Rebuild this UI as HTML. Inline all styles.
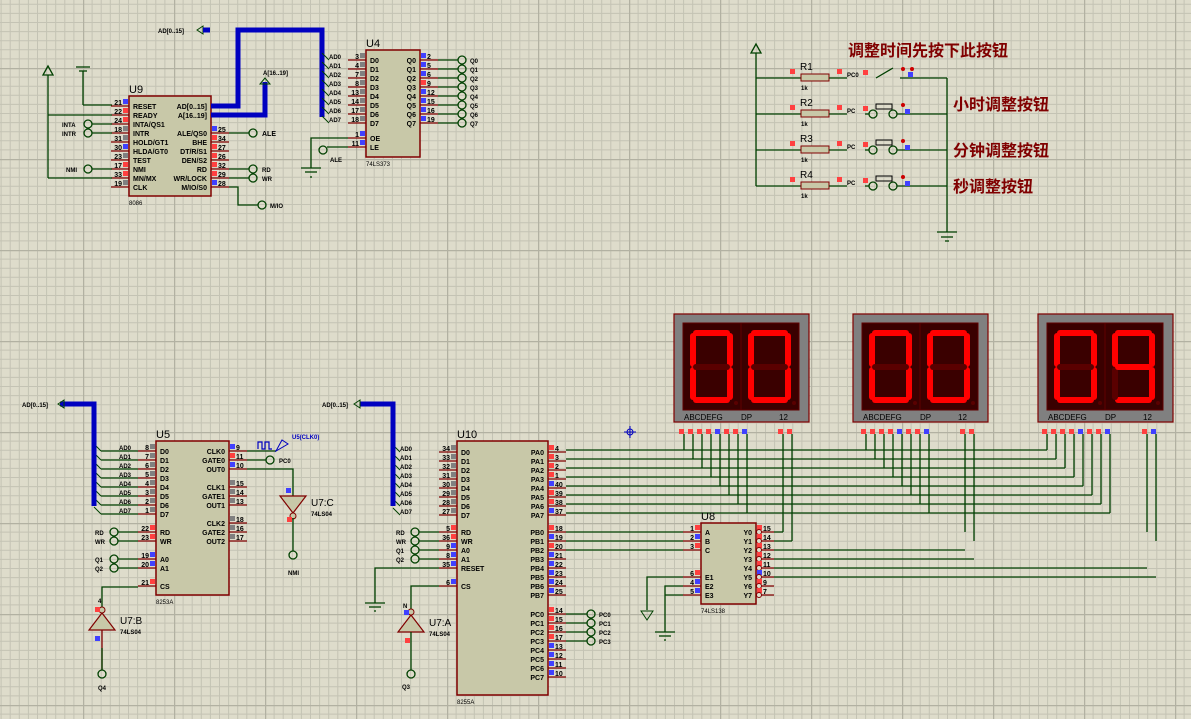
<!DOCTYPE html>
<html><head><meta charset="utf-8"><style>
html,body{margin:0;padding:0;background:#dedccb;overflow:hidden}
svg{display:block}
text{font-family:"Liberation Sans","Noto Sans CJK SC",sans-serif;}
</style></head><body>
<svg id="s" width="1191" height="719" viewBox="0 0 1191 719" xmlns="http://www.w3.org/2000/svg">
<defs>
<pattern id="g" width="91" height="91" patternUnits="userSpaceOnUse" patternTransform="translate(83,432)">
<rect width="91" height="91" fill="#dedccb"/>
<g stroke="#c4c3b4" stroke-width="1">
<path d="M9.1 0V91M18.2 0V91M27.3 0V91M36.4 0V91M45.5 0V91M54.6 0V91M63.7 0V91M72.8 0V91M81.9 0V91"/>
<path d="M0 9.1H91M0 18.2H91M0 27.3H91M0 36.4H91M0 45.5H91M0 54.6H91M0 63.7H91M0 72.8H91M0 81.9H91"/>
</g>
<path d="M0.5 0V91M0 0.5H91" stroke="#b2b1a2" stroke-width="1.5"/>
</pattern>
</defs>
<rect width="1191" height="719" fill="url(#g)"/>
<g id="c"></g>
</svg>
<script>
var o='';
var W='#004000',P='#800000',R='#ff4040',B='#4040ff',G='#808080';
function L(x1,y1,x2,y2,c,w){o+='<line x1="'+x1+'" y1="'+y1+'" x2="'+x2+'" y2="'+y2+'" stroke="'+(c||W)+'" stroke-width="'+(w||1.3)+'"/>';}
function PL(pts,c,w){o+='<polyline points="'+pts+'" fill="none" stroke="'+(c||W)+'" stroke-width="'+(w||1.3)+'"/>';}
function T(x,y,t,s,c,a,wt){o+='<text x="'+x+'" y="'+y+'" font-size="'+(s||7)+'" fill="'+(c||'#000')+'"'+(a?' text-anchor="'+a+'"':'')+(wt?' font-weight="bold"':'')+'>'+t+'</text>';}
function SQ(x,y,c){o+='<rect x="'+x+'" y="'+y+'" width="5" height="5" fill="'+c+'"/>';}
function C(x,y){o+='<circle cx="'+x+'" cy="'+y+'" r="4" fill="none" stroke="'+W+'" stroke-width="1.3"/>';}
function chip(x,y,w,h,lab,sub){o+='<rect x="'+x+'" y="'+y+'" width="'+w+'" height="'+h+'" fill="#c8c8a8" stroke="'+P+'" stroke-width="1.5"/>';T(x,y-3,lab,11,'#000');if(sub)T(x,y+h+9,sub,6,'#000');}
function pl(x,y,n,name,c){L(x-18,y,x,y,P,1.3);T(x-7,y-1,n,7,'#000','end',1);if(c)SQ(x-6,y-7,c);if(name)T(x+4,y+3,name,7,'#000',0,1);}
function pr(x,y,n,name,c){L(x,y,x+18,y,P,1.3);T(x+7,y-1,n,7,'#000',0,1);if(c)SQ(x+1,y-7,c);if(name)T(x-4,y+3,name,7,'#000','end',1);}
function bus(pts){PL(pts,'#0000c0',5);}
function gnd(x,y){L(x,y,x,y+8);L(x-10,y+8,x+10,y+8);L(x-6,y+12,x+6,y+12);L(x-2,y+16,x+2,y+16);}
function pwr(x,y){o+='<polygon points="'+x+','+y+' '+(x-5)+','+(y+9)+' '+(x+5)+','+(y+9)+'" fill="none" stroke="'+W+'" stroke-width="1.3"/>';}

// ===== U9 8086 =====
chip(129,96,82,100,'U9','8086');
var l9=[[21,'RESET',B],[22,'READY',R],[24,'INTA/QS1',R],[18,'INTR',G],[31,'HOLD/GT1',G],[30,'HLDA/GT0',B],[23,'TEST',G],[17,'NMI',R],[33,'MN/MX',R],[19,'CLK',G]];
l9.forEach(function(p,i){pl(129,106+9*i,p[0],p[1],p[2]);});
var r9=[[106,'','AD[0..15]',0],[115,'','A[16..19]',0],[133,25,'ALE/QS0',B],[142,34,'BHE',R],[151,27,'DT/R/S1',R],[160,26,'DEN/S2',R],[169,32,'RD',R],[178,29,'WR/LOCK',R],[187,28,'M/IO/S0',B]];
r9.forEach(function(p){pr(211,p[0],p[1],p[2],p[3]);});
pwr(48,66);L(48,75,48,178);L(48,178,112,178);L(48,115,112,115);
L(76,67,90,67);L(79,71,87,71);L(83,71,83,105);L(83,105,112,105);
C(88,124);L(92,124,112,124);T(62,127,'INTA',6,'#000',0,1);
C(88,133);L(92,133,112,133);T(62,136,'INTR',6,'#000',0,1);
C(88,169);L(92,169,112,169);T(66,172,'NMI',6,'#000',0,1);
C(253,133);L(229,133,249,133);T(262,136,'ALE',7,'#000',0,1);
C(253,169);L(229,169,249,169);T(262,172,'RD',6,'#000',0,1);
C(253,178);L(229,178,249,178);T(262,181,'WR',6,'#000',0,1);
PL('229,187 238,187 238,205 258,205');C(262,205);T(270,208,'M/IO',6,'#000',0,1);
bus('211,106 238,106 238,30 322,30 322,117');
o+='<polygon points="197,30 203,26 203,34" fill="none" stroke="'+W+'"/>';L(203,30,210,30,'#0000c0',5);
T(158,33,'AD[0..15]',6,'#000',0,1);
bus('211,115 265,115 265,82');o+='<polygon points="265,78 260,84 270,84" fill="none" stroke="'+W+'"/>';T(263,75,'A[16..19]',6,'#000',0,1);

// ===== U4 74LS373 =====
chip(366,50,54,107,'U4','74LS373');
var n4=[3,4,7,8,13,14,17,18],q4=[2,5,6,9,12,15,16,19];
for(var i=0;i<8;i++){var y=60+9*i;pl(366,y,n4[i],'D'+i,G);L(322,y-7,329,y,'#004000',1);T(329,y-1,'AD'+i,6,'#000',0,1);
pr(420,y,q4[i],'Q'+i,i==3?R:B);L(438,y,458,y);C(462,y);T(470,y+3,'Q'+i,6,'#000',0,1);}
pl(366,138,1,'OE',B);pl(366,147,11,'LE',B);
PL('348,138 311,138 311,168');L(301,168,321,168);L(305,172,317,172);L(311,176,311,178);
C(323,150);L(327,147,348,147);T(330,162,'ALE',6,'#000',0,1);

// ===== Switch section =====
pwr(756,44);L(756,53,756,186);
var cn=['调整时间先按下此按钮','小时调整按钮','分钟调整按钮','秒调整按钮'];
[78,114,150,186].forEach(function(y,i){
L(756,y,801,y);o+='<rect x="801" y="'+(y-4)+'" width="28" height="7" fill="#c8c8a8" stroke="'+P+'"/>';
SQ(790,y-9,R);SQ(837,y-9,R);T(800,y-8,'R'+(i+1),10,'#000');T(801,y+12,'1k',6,'#000',0,1);
L(829,y,847,y);T(847,y-1,i?'PC':'PC0',6,'#000',0,1);SQ(863,y-8,R);
if(i==0){L(876,y,893,y-10);L(900,y,947,y);o+='<circle cx="903" cy="'+(y-9)+'" r="2" fill="#c00"/><circle cx="912" cy="'+(y-9)+'" r="2" fill="#c00"/>';SQ(908,y-6,B);}
else{C(873,y);C(893,y);o+='<rect x="876" y="'+(y-10)+'" width="16" height="5" fill="none" stroke="#000"/>';L(897,y,947,y);
o+='<circle cx="903" cy="'+(y-9)+'" r="2" fill="#c00"/>';SQ(905,y-5,B);L(869,y,865,y);}
});
L(947,78,947,232);L(937,232,957,232);L(941,237,953,237);L(945,241,949,241);
T(848,56,cn[0],16,'#800000',0,1);T(953,110,cn[1],16,'#800000',0,1);T(953,156,cn[2],16,'#800000',0,1);T(953,192,cn[3],16,'#800000',0,1);

// ===== 7-seg displays =====
function seg(dx,dy,on){
 var x0=dx+10,x1=dx+47,y0=dy+10,ym=dy+44,y1=dy+77;
 var S={a:[x0+3,y0,x1-3,y0],b:[x1,y0+3,x1,ym-3],c:[x1,ym+3,x1,y1-3],d:[x0+3,y1,x1-3,y1],e:[x0,ym+3,x0,y1-3],f:[x0,y0+3,x0,ym-3],g:[x0+3,ym,x1-3,ym]};
 for(var k in S){var s=S[k];o+='<line x1="'+s[0]+'" y1="'+s[1]+'" x2="'+s[2]+'" y2="'+s[3]+'" stroke="'+(on.indexOf(k)>=0?'#ff0000':'#5a0000')+'" stroke-width="6" stroke-linecap="round"/>';}
 o+='<circle cx="'+(dx+53)+'" cy="'+(dy+80)+'" r="2" fill="#5a0000"/>';
}
var D=[[674,684,783,'abcdef','abcdef'],[853,866,965,'abcdef','abcdef'],[1038,1047,1147,'abcdef','abcdfg']];
D.forEach(function(d){var x=d[0];
o+='<rect x="'+x+'" y="314" width="135" height="108" fill="#808080" stroke="'+P+'" stroke-width="1.2"/>';
o+='<rect x="'+(x+9)+'" y="323" width="116" height="87" fill="#3a0000" stroke="#600000"/>';L(x+67,323,x+67,410,'#600000',1);
seg(x+9,323,d[3]);seg(x+67,323,d[4]);
T(x+10,420,'ABCDEFG',8,'#000');T(x+67,420,'DP',8,'#000');T(x+105,420,'12',8,'#000');
for(var i=0;i<8;i++){var px=d[1]+9*i;SQ(px-5,429,(i==4||i==7)?B:R);L(px,434,px,450+9*i);}
SQ(d[2]-5,429,R);SQ(d[2]+4,429,d[0]==1038?B:R);L(d[2],434,d[2],532);L(d[2]+9,434,d[2]+9,541);
});

// ===== U10 8255 =====
chip(457,441,91,254,'U10','8255A');
var dn=[34,33,32,31,30,29,28,27];
for(var i=0;i<8;i++){var y=452+9*i;pl(457,y,dn[i],'D'+i,G);L(393,y-7,400,y,W,1);T(400,y-1,'AD'+i,6,'#000',0,1);}
bus('360,404 393,404 393,506');o+='<polygon points="354,404 360,400 360,408" fill="none" stroke="'+W+'"/>';T(322,407,'AD[0..15]',6,'#000',0,1);
[[532,5,'RD',R],[541,36,'WR',R],[550,9,'A0',B],[559,8,'A1',B],[568,35,'RESET',B],[586,6,'CS',B]].forEach(function(p){pl(457,p[0],p[1],p[2],p[3]);});
[[532,'RD'],[541,'WR'],[550,'Q1'],[559,'Q2']].forEach(function(p){C(415,p[0]);L(419,p[0],439,p[0]);T(396,p[0]+3,p[1],6,'#000',0,1);});
PL('439,568 375,568 375,603');L(365,603,385,603);L(369,607,381,607);L(374,611,376,611);
PL('439,586 411,586 411,609');
var pa=[4,3,2,1,40,39,38,37],pb=[18,19,20,21,22,23,24,25],pc=[14,15,16,17,13,12,11,10];
for(var i=0;i<8;i++){pr(548,452+9*i,pa[i],'PA'+i,(i==4||i==7)?B:R);L(566,450+9*i,1047+9*i,450+9*i);
pr(548,532+9*i,pb[i],'PB'+i,i<3&&i!=1?R:B);pr(548,614+9*i,pc[i],'PC'+i,i<4?R:B);}
for(var i=0;i<4;i++){var y=614+9*i;L(566,y,587,y);C(591,y);T(599,y+3,'PC'+i,6,'#000',0,1);}
L(566,532,683,532);L(566,541,683,541);L(566,550,683,550);

// ===== U8 74LS138 =====
chip(701,523,55,81,'U8','74LS138');
[[532,1,'A',R],[541,2,'B',B],[550,3,'C',R],[577,6,'E1',R],[586,4,'E2',B],[595,5,'E3',B]].forEach(function(p){pl(701,p[0],p[1],p[2],p[3]);});
var yn=[15,14,13,12,11,10,9,7];
for(var i=0;i<8;i++){pr(756,532+9*i,yn[i],'Y'+i,i==5?B:R);o+='<circle cx="759" cy="'+(532+9*i)+'" r="2.5" fill="#dedccb" stroke="'+P+'"/>';}
L(774,532,783,532);L(774,541,792,541);L(774,550,965,550);L(774,559,974,559);L(774,568,1147,568);L(774,577,1156,577);
PL('683,577 647,577 647,610');o+='<polygon points="641,611 653,611 647,620" fill="none" stroke="'+W+'"/>';
PL('683,586 665,586 665,632');L(655,632,675,632);L(659,636,671,636);L(664,640,666,640);L(665,595,683,595);

// ===== U5 8253 =====
chip(156,441,73,154,'U5','8253A');
var n5=[8,7,6,5,4,3,2,1];
for(var i=0;i<8;i++){var y=451+9*i;pl(156,y,n5[i],'D'+i,G);L(94,y-7,101,y,W,1);T(119,y-1,'AD'+i,6,'#000',0,1);L(101,y,138,y);}
bus('60,404 94,404 94,506');o+='<polygon points="58,404 64,400 64,408" fill="none" stroke="'+W+'"/>';T(22,407,'AD[0..15]',6,'#000',0,1);
[[532,22,'RD',R],[541,23,'WR',R],[559,19,'A0',B],[568,20,'A1',B],[586,21,'CS',R]].forEach(function(p){pl(156,p[0],p[1],p[2],p[3]);});
[[532,'RD'],[541,'WR'],[559,'Q1'],[568,'Q2']].forEach(function(p){C(114,p[0]);L(118,p[0],138,p[0]);T(95,p[0]+3,p[1],6,'#000',0,1);});
[[451,9,'CLK0',B],[460,11,'GATE0',R],[469,10,'OUT0',B],[487,15,'CLK1',G],[496,14,'GATE1',G],[505,13,'OUT1',G],[523,18,'CLK2',G],[532,16,'GATE2',G],[541,17,'OUT2',G]].forEach(function(p){pr(229,p[0],p[1],p[2],p[3]);});
L(247,451,276,451);PL('258,449 258,442 262,442 262,449 265,449 265,442 269,442 269,449 272,449','#0000c0',1.2);
o+='<polygon points="276,451 282,440 288,444" fill="none" stroke="#0000c0"/>';T(292,439,'U5(CLK0)',6,'#0000c0',0,1);
L(247,460,266,460);C(270,460);T(279,463,'PC0',6,'#000',0,1);
PL('247,469 293,469 293,496');

// inverters
function inv(x,yb,up,lab){ // triangle apex direction
 if(up){o+='<polygon points="'+x+','+(yb-17)+' '+(x-13)+','+yb+' '+(x+13)+','+yb+'" fill="#c8c8a8" stroke="'+P+'" stroke-width="1.2"/>';o+='<circle cx="'+x+'" cy="'+(yb-20)+'" r="3" fill="#c8c8a8" stroke="'+P+'"/>';}
 else{o+='<polygon points="'+x+','+(yb+17)+' '+(x-13)+','+yb+' '+(x+13)+','+yb+'" fill="#c8c8a8" stroke="'+P+'" stroke-width="1.2"/>';o+='<circle cx="'+x+'" cy="'+(yb+20)+'" r="3" fill="#c8c8a8" stroke="'+P+'"/>';}
}
// U7:B
PL('138,587 102,587 102,607');inv(102,630,true);SQ(95,607,R);SQ(95,636,B);L(102,630,102,670,P);L(102,648,102,670);C(102,674);T(120,624,'U7:B',10,'#000');T(120,634,'74LS04',6,'#000',0,1);
T(98,603,'4',6,'#000',0,1);T(98,690,'Q4',6,'#000',0,1);
// U7:C
inv(293,496,false);SQ(286,488,B);SQ(287,517,R);L(293,518,293,551);C(293,555);T(311,506,'U7:C',10,'#000');T(311,516,'74LS04',6,'#000',0,1);T(288,575,'NMI',6,'#000',0,1);
// U7:A
inv(411,632,true);SQ(404,610,B);SQ(405,638,R);L(411,632,411,670);C(411,674);T(429,626,'U7:A',10,'#000');T(429,636,'74LS04',6,'#000',0,1);T(403,608,'N',6,'#000',0,1);T(402,689,'Q3',6,'#000',0,1);
// crosshair
o+='<circle cx="630" cy="432" r="3" fill="none" stroke="#0000c0"/>';L(624,432,636,432,'#0000c0',1);L(630,426,630,438,'#0000c0',1);
document.getElementById('c').innerHTML=o;
</script>
</body></html>
